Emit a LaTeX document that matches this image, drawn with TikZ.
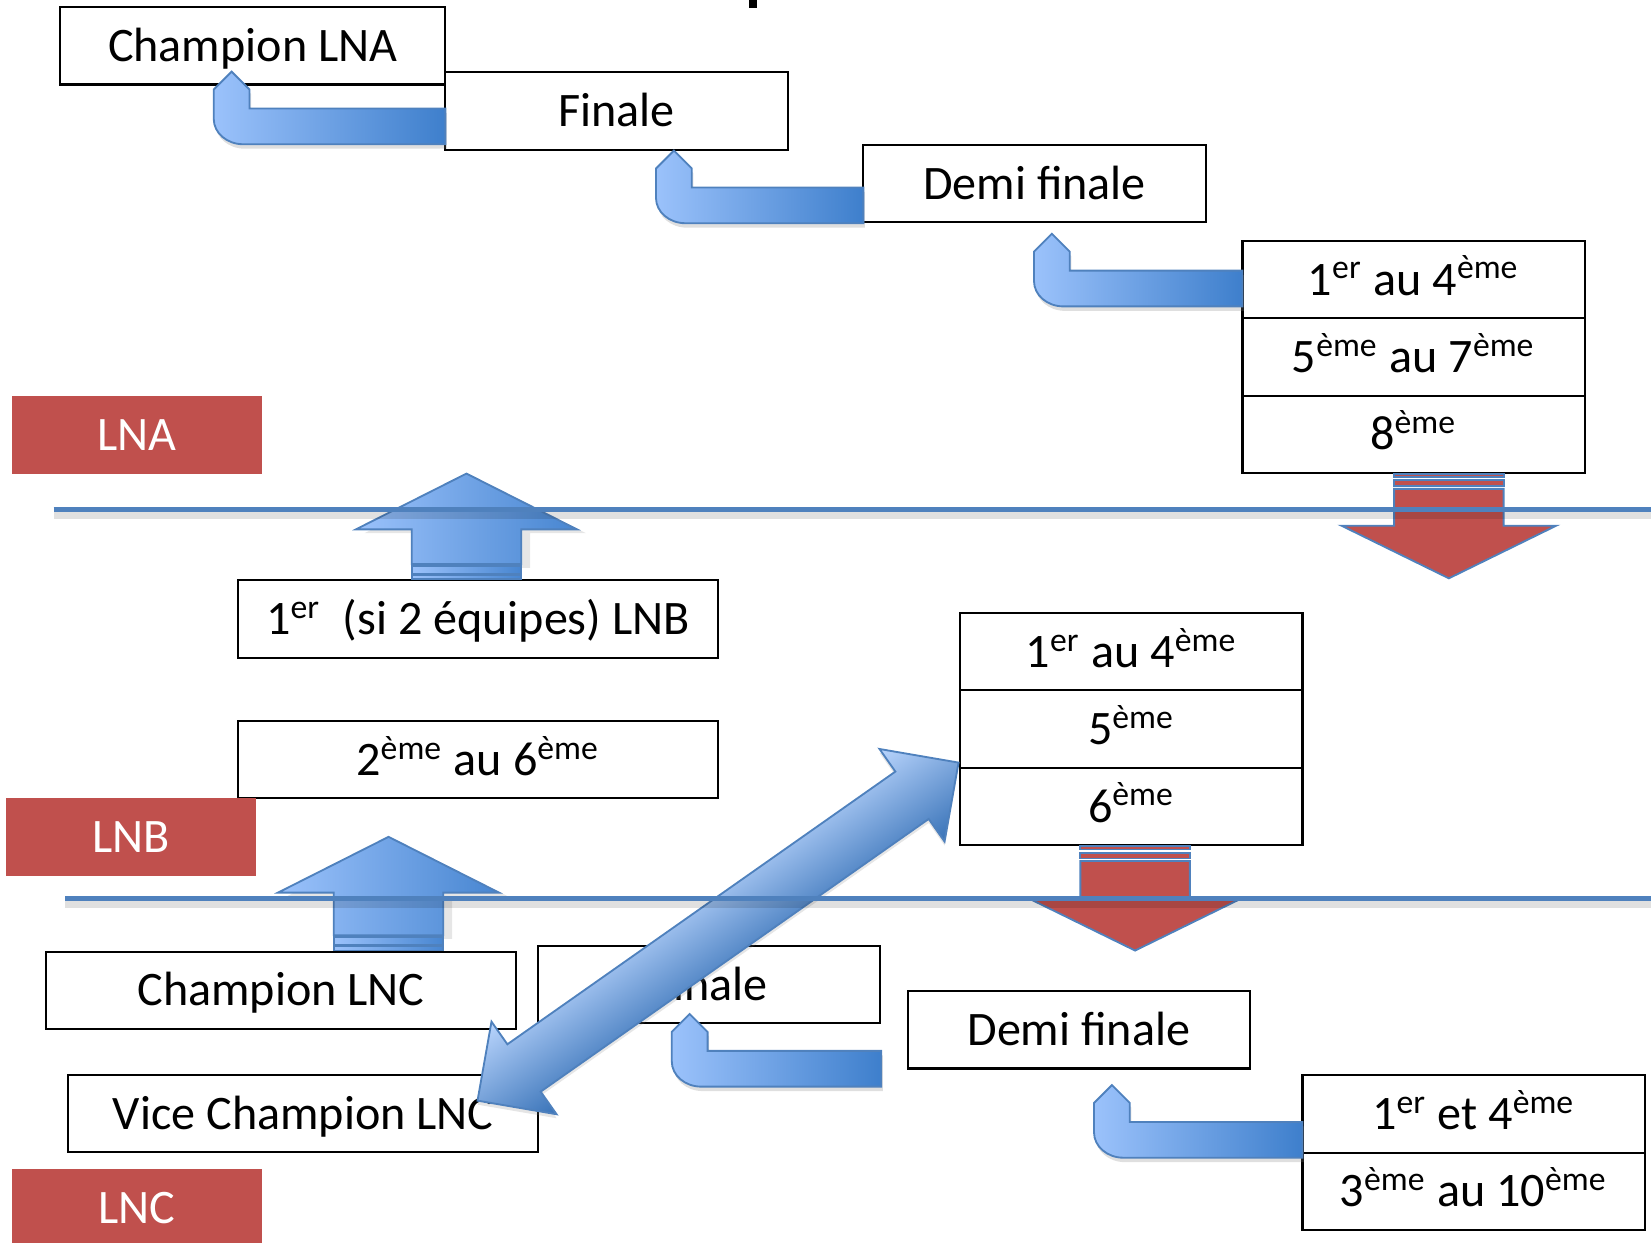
\documentclass[tikz,border=0pt]{standalone}
\usepackage{fontspec}
\setmainfont{Carlito}
\usetikzlibrary{positioning, calc, shadows}
\definecolor{lineblue}{RGB}{79,129,189}
\definecolor{lightblue}{RGB}{155,194,251}
\definecolor{darkblue}{RGB}{62,127,204}
\definecolor{leaguered}{RGB}{192,80,77}
\tikzstyle{turn} = [draw=lineblue, line width=0.5pt, left color=lightblue, right color=darkblue, drop shadow={opacity=0.25, shadow xshift=0.4pt, shadow yshift=-1.2pt}]
\tikzstyle{blockup} = [draw=lineblue, line width=0.5pt, left color=lightblue, right color=darkblue!90!lightblue]
\tikzstyle{blockdown} = [draw=lineblue, line width=0.5pt, fill=leaguered]

% bent arrow: #1 right end, #2 left x, #3 tip y
\newcommand{\turnarrow}[3]{%
  \path[turn] let \p1=(#1) in
    (#2+0.17,#3) -- (#2+0.34,#3-0.17) -- (#2+0.34,#3-0.35) -- (\x1,#3-0.35) -- (\x1,#3-0.69)
    -- (#2+0.28,#3-0.69) arc[start angle=270, end angle=180, x radius=0.28, y radius=0.24] -- (#2,#3-0.17) -- cycle;}
% striped arrow up: #1 base node, #2 x offset, #3 length
\newcommand{\liftarrow}[3]{%
  \begin{scope}[shift={($(#1.north)+(#2,0)$)}]
    \path[blockup, drop shadow={opacity=0.2, shadow yshift=-1pt}] (-0.52,0.155) -- (-0.52,#3-0.53) -- (-1.05,#3-0.53) -- (0,#3) -- (1.05,#3-0.53) -- (0.52,#3-0.53) -- (0.52,0.155) -- cycle;
    \path[blockup] (-0.52,0.065) rectangle (0.52,0.14);
    \path[blockup] (-0.52,0.01) rectangle (0.52,0.05);
  \end{scope}}
% striped arrow down: #1 base node, #2 x offset, #3 length
\newcommand{\droparrow}[3]{%
  \begin{scope}[shift={($(#1.south)+(#2,0)$)}]
    \path[blockdown] (-0.52,-0.15) -- (-0.52,-#3+0.5) -- (-1.02,-#3+0.5) -- (0,-#3) -- (1.02,-#3+0.5) -- (0.52,-#3+0.5) -- (0.52,-0.15) -- cycle;
    \path[blockdown] (-0.52,-0.07) rectangle (0.52,-0.125);
    \path[blockdown] (-0.52,-0.01) rectangle (0.52,-0.04);
  \end{scope}}

\begin{document}
\begin{tikzpicture}[
    place/.style={rectangle, draw, line width=0.55pt, fill=white, minimum width=#1, minimum height=0.735cm, inner sep=0pt, outer sep=0pt, text height=8.4pt, text depth=0pt},
    place/.default=3.25cm,
    league/.style={rectangle, fill=leaguered, text=white, minimum width=2.38cm, minimum height=0.74cm, inner sep=0pt, text height=8.4pt, text depth=0pt},
    swap/.style={draw=lineblue, line width=0.5pt, top color=lightblue!70!white, bottom color=darkblue!90!black},
    divider/.style={draw=lineblue, line width=1.35pt, preaction={draw=black, opacity=0.12, line width=2.4pt, transform canvas={yshift=-1.5pt}}},
    node distance=0pt,
    font=\fontsize{13}{15}\selectfont
    ]
    \useasboundingbox (0,0) rectangle (15.68,-11.80);
    \fill (7.11,0) rectangle (7.19,-0.08);
    % LNA
    \node[place=3.66cm] (champA) at (2.40,-0.435) {Champion LNA};
    \node[place] (finA) at (5.855,-1.055) {Finale};
    \node[place] (demiA) at (9.825,-1.745) {Demi finale};
    \node[place] (rA1) at (13.425,-2.655) {1\textsuperscript{er} au 4\textsuperscript{ème}};
    \node[place] (rA2) [below=of rA1] {5\textsuperscript{ème} au 7\textsuperscript{ème}};
    \node[place] (rA3) [below=of rA2] {8\textsuperscript{ème}};
    \node[league] (lna) at (1.30,-4.13) {LNA};
    % LNB
    \node[place=4.56cm] (lnbA) at (4.54,-5.88) {1\textsuperscript{er}~ (si 2 équipes) LNB};
    \node[place=4.56cm] (lnbB) at (4.54,-7.215) {2\textsuperscript{ème} au 6\textsuperscript{ème}};
    \node[place] (rB1) at (10.745,-6.19) {1\textsuperscript{er} au 4\textsuperscript{ème}};
    \node[place] (rB2) [below=of rB1] {5\textsuperscript{ème}};
    \node[place] (rB3) [below=of rB2] {6\textsuperscript{ème}};
    \node[league, minimum width=2.37cm] (lnb) at (1.245,-7.945) {LNB};
    % LNC
    \node[place=4.46cm] (champC) at (2.67,-9.405) {Champion LNC};
    \node[place] (finC) at (6.735,-9.35) {Finale};
    \node[place=4.46cm] (viceC) at (2.88,-10.575) {Vice Champion LNC};
    \node[place] (demiC) at (10.245,-9.78) {Demi finale};
    \node[place] (rC1) at (13.995,-10.58) {1\textsuperscript{er} et 4\textsuperscript{ème}};
    \node[place] (rC2) [below=of rC1] {3\textsuperscript{ème} au 10\textsuperscript{ème}};
    \node[league] (lnc) at (1.30,-11.47) {LNC};
    % play-off arrows
    \turnarrow{finA.west}{2.03}{-0.68}
    \turnarrow{demiA.west}{6.23}{-1.43}
    \turnarrow{rA1.west}{9.82}{-2.22}
    \turnarrow{$(demiC.west)+(-0.25,0)$}{6.38}{-9.63}
    \turnarrow{rC1.west}{10.39}{-10.305}
    % promotion / relegation
    \liftarrow{lnbA}{-0.11}{1.015}
    \liftarrow{champC}{1.02}{1.09}
    \droparrow{rA3}{0.335}{1.0}
    \droparrow{rB3}{0.035}{1.0}
    % barrage
    \coordinate (swapA) at (4.535,-10.453);
    \coordinate (swapB) at (9.104,-7.243);
    \begin{scope}[transform canvas={shift={(swapA)}, rotate=35.1}]
      \path[swap, drop shadow={opacity=0.2, shadow xshift=-0.6pt, shadow yshift=-0.9pt}] (0,0) -- (0.54,0.5375) -- (0.54,0.275) -- (5.044,0.275) -- (5.044,0.5375) -- (5.584,0)
        -- (5.044,-0.5375) -- (5.044,-0.275) -- (0.54,-0.275) -- (0.54,-0.5375) -- cycle;
    \end{scope}
    % league borders
    \draw[divider] (0.51,-4.835) -- (15.68,-4.835);
    \draw[divider] (0.62,-8.53) -- (15.68,-8.53);
\end{tikzpicture}
\end{document}
